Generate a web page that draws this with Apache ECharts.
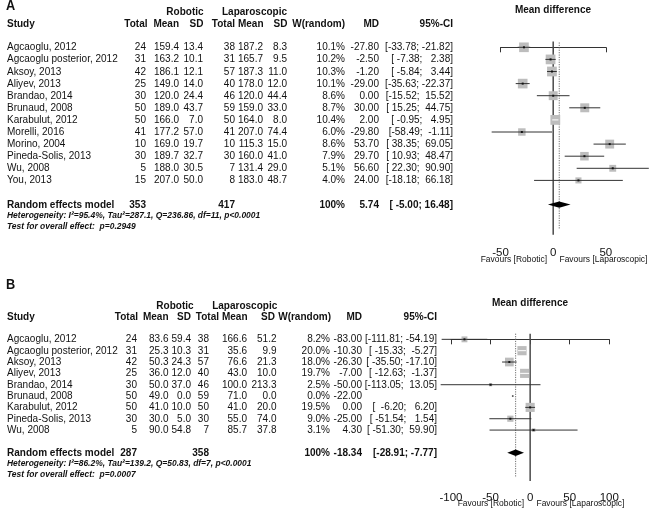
<!DOCTYPE html>
<html><head><meta charset="utf-8">
<script src="https://cdn.jsdelivr.net/npm/echarts@6/dist/echarts.min.js"></script>
<style>html,body{margin:0;padding:0;background:#fff}#c{width:650px;height:513px}</style>
</head><body><div id="c"></div>
<script>
// ---------- Panel A data ----------
const studiesA = ["Agcaoglu, 2012","Agcaoglu posterior, 2012","Aksoy, 2013","Aliyev, 2013","Brandao, 2014","Brunaud, 2008","Karabulut, 2012","Morelli, 2016","Morino, 2004","Pineda-Solis, 2013","Wu, 2008","You, 2013"];
const robTotalA = [24,31,42,25,30,50,50,41,10,30,5,15];
const robMeanA = [159.4,163.2,186.1,149.0,120.0,189.0,166.0,177.2,169.0,189.7,188.0,207.0];
const robSDA = [13.4,10.1,12.1,14.0,24.4,43.7,7.0,57.0,19.7,32.7,30.5,50.0];
const lapTotalA = [38,31,57,40,46,59,50,41,10,30,7,8];
const lapMeanA = [187.2,165.7,187.3,178.0,120.0,159.0,164.0,207.0,115.3,160.0,131.4,183.0];
const lapSDA = [8.3,9.5,11.0,12.0,44.4,33.0,8.0,74.4,15.0,41.0,29.0,48.7];
const weightA = [10.1,10.2,10.3,10.1,8.6,8.7,10.4,6.0,8.6,7.9,5.1,4.0];
const mdA = [-27.80,-2.50,-1.20,-29.00,0.00,30.00,2.00,-29.80,53.70,29.70,56.60,24.00];
const lowerA = [-33.78,-7.38,-5.84,-35.63,-15.52,15.25,-0.95,-58.49,38.35,10.93,22.30,-18.18];
const upperA = [-21.82,2.38,3.44,-22.37,15.52,44.75,4.95,-1.11,69.05,48.47,90.90,66.18];
const summaryA = {robTotal:353, lapTotal:417, weight:"100%", md:5.74, lower:-5.00, upper:16.48};
const hetA = "Heterogeneity: I\u00B2=95.4%, Tau\u00B2=287.1, Q=236.86, df=11, p<0.0001";
const testA = "Test for overall effect:  p=0.2949";
const ticksA = [-50, 0, 50];

// ---------- Panel B data ----------
const studiesB = ["Agcaoglu, 2012","Agcaoglu posterior, 2012","Aksoy, 2013","Aliyev, 2013","Brandao, 2014","Brunaud, 2008","Karabulut, 2012","Pineda-Solis, 2013","Wu, 2008"];
const robTotalB = [24,31,42,25,30,50,50,30,5];
const robMeanB = [83.6,25.3,50.3,36.0,50.0,49.0,41.0,30.0,90.0];
const robSDB = [59.4,10.3,24.3,12.0,37.0,0.0,10.0,5.0,54.8];
const lapTotalB = [38,31,57,40,46,59,50,30,7];
const lapMeanB = [166.6,35.6,76.6,43.0,100.0,71.0,41.0,55.0,85.7];
const lapSDB = [51.2,9.9,21.3,10.0,213.3,0.0,20.0,74.0,37.8];
const weightB = [8.2,20.0,18.0,19.7,2.5,0.0,19.5,9.0,3.1];
const mdB = [-83.00,-10.30,-26.30,-7.00,-50.00,-22.00,0.00,-25.00,4.30];
const lowerB = [-111.81,-15.33,-35.50,-12.63,-113.05,null,-6.20,-51.54,-51.30];
const upperB = [-54.19,-5.27,-17.10,-1.37,13.05,null,6.20,1.54,59.90];
const summaryB = {robTotal:287, lapTotal:358, weight:"100%", md:-18.34, lower:-28.91, upper:-7.77};
const hetB = "Heterogeneity: I\u00B2=86.2%, Tau\u00B2=139.2, Q=50.83, df=7, p<0.0001";
const testB = "Test for overall effect:  p=0.0007";
const ticksB = [-100, -50, 0, 50, 100];

const FONT = '"Liberation Sans", Arial, Helvetica, sans-serif';
const SX = 0.91; // horizontal squeeze of the original typesetting

function ciText(lo, hi, wl, wh) {
  return '[' + lo.toFixed(2).padStart(wl) + '; ' + hi.toFixed(2).padStart(wh) + ']';
}

function makePanel(P) {
  const wMax = Math.max.apply(null, P.weight);
  const loW = Math.max.apply(null, P.lower.filter(v => v != null).map(v => v.toFixed(2).length));
  const hiW = Math.max.apply(null, P.upper.filter(v => v != null).map(v => v.toFixed(2).length));
  const C = P.cols;
  function txt(x, y, s, align, bold) {
    return {type:'text', x:x, y:y, scaleX:SX, style:{text:s, align:align, verticalAlign:'middle',
      font:(bold ? 'bold ' : '') + '11px ' + FONT, fill:'#111'}};
  }
  const series = [];
  // table rows
  series.push({
    type:'custom', xAxisIndex:P.idx, yAxisIndex:P.idx, clip:false, silent:true, z:5,
    data: P.studies.map((s, i) => [0, i]),
    renderItem: function(params, api) {
      const i = params.dataIndex;
      const y = api.coord([0, api.value(1)])[1];
      const ch = [
        txt(C.study, y, P.studies[i], 'left'),
        txt(C.rTot, y, String(P.robTotal[i]), 'right'),
        txt(C.rMean, y, P.robMean[i].toFixed(1), 'right'),
        txt(C.rSD, y, P.robSD[i].toFixed(1), 'right'),
        txt(C.lTot, y, String(P.lapTotal[i]), 'right'),
        txt(C.lMean, y, P.lapMean[i].toFixed(1), 'right'),
        txt(C.lSD, y, P.lapSD[i].toFixed(1), 'right'),
        txt(C.w, y, P.weight[i].toFixed(1) + '%', 'right'),
        txt(C.md, y, P.md[i].toFixed(2), 'right')
      ];
      if (P.lower[i] != null) ch.push(txt(C.ci, y, ciText(P.lower[i], P.upper[i], loW, hiW), 'right'));
      return {type:'group', children:ch};
    }
  });
  // summary row text
  series.push({
    type:'custom', xAxisIndex:P.idx, yAxisIndex:P.idx, clip:false, silent:true, z:5,
    data: [[P.summary.md, P.sumRow]],
    renderItem: function(params, api) {
      const y = api.coord([0, api.value(1)])[1];
      const S = P.summary;
      return {type:'group', children:[
        txt(C.study, y, 'Random effects model', 'left', true),
        txt(C.rTot, y, String(S.robTotal), 'right', true),
        txt(C.lTot, y, String(S.lapTotal), 'right', true),
        txt(C.w, y, S.weight, 'right', true),
        txt(C.md, y, S.md.toFixed(2), 'right', true),
        txt(C.ci, y, '[' + S.lower.toFixed(2).padStart(6) + '; ' + S.upper.toFixed(2).padStart(5) + ']', 'right', true)
      ]};
    }
  });
  // reference lines: zero (solid) and pooled (dotted)
  series.push({
    type:'custom', xAxisIndex:P.idx, yAxisIndex:P.idx, clip:false, silent:true, z:2,
    data: [[0, 0], [P.summary.md, 1]],
    renderItem: function(params, api) {
      const x = api.value(0);
      const dotted = params.dataIndex === 1;
      const a = api.coord([x, dotted ? P.dotTop : P.zeroTop]);
      const b = api.coord([x, dotted ? P.dotBottom : P.zeroBottom]);
      return {type:'line', shape:{x1:a[0], y1:a[1], x2:b[0], y2:b[1]},
        style: dotted ? {stroke:'#6f6f6f', lineWidth:1, lineDash:[1.2, 1.2]} : {stroke:'#4a4a4a', lineWidth:1.5}};
    }
  });
  // study squares and CI lines
  series.push({
    type:'custom', xAxisIndex:P.idx, yAxisIndex:P.idx, clip:false, silent:true, z:4,
    data: P.md.map((m, i) => [m, i]),
    renderItem: function(params, api) {
      const i = params.dataIndex;
      const c = api.coord([api.value(0), api.value(1)]);
      const ch = [];
      const w = P.weight[i];
      const size = P.maxBox * Math.sqrt(w / wMax);
      if (w > 0) {
        ch.push({type:'rect', shape:{x:c[0]-size/2, y:c[1]-size/2, width:size, height:size}, style:{fill:'#bdbdbd'}});
      }
      let inside = false;
      if (P.lower[i] != null) {
        const a = api.coord([P.lower[i], i]);
        const b = api.coord([P.upper[i], i]);
        inside = (b[0] - a[0]) < size;
        ch.push({type:'line', shape:{x1:a[0], y1:c[1], x2:b[0], y2:c[1]},
          style:{stroke: inside ? '#ffffff' : '#333333', lineWidth:1}});
      }
      if (w === 0) {
        ch.push({type:'rect', shape:{x:c[0]-0.8, y:c[1]-0.8, width:1.6, height:1.6}, style:{fill:'#444'}});
      } else if (!inside) {
        ch.push({type:'rect', shape:{x:c[0]-1, y:c[1]-1, width:2, height:2}, style:{fill:'#111'}});
      }
      return {type:'group', children:ch};
    }
  });
  // pooled diamond
  series.push({
    type:'custom', xAxisIndex:P.idx, yAxisIndex:P.idx, clip:false, silent:true, z:4,
    data: [[P.summary.md, P.sumRow]],
    renderItem: function(params, api) {
      const c = api.coord([api.value(0), api.value(1)]);
      const l = api.coord([P.summary.lower, api.value(1)]);
      const r = api.coord([P.summary.upper, api.value(1)]);
      const h = 3.2;
      return {type:'polygon', shape:{points:[[l[0], c[1]], [c[0], c[1]-h], [r[0], c[1]], [c[0], c[1]+h]]},
        style:{fill:'#000'}};
    }
  });
  return series;
}

const panelA = {
  idx:0, studies:studiesA, robTotal:robTotalA, robMean:robMeanA, robSD:robSDA,
  lapTotal:lapTotalA, lapMean:lapMeanA, lapSD:lapSDA, weight:weightA, md:mdA,
  lower:lowerA, upper:upperA, summary:summaryA, sumRow:13, maxBox:9.8,
  zeroTop:-0.47, zeroBottom:15.5, dotTop:-0.4, dotBottom:15.0,
  cols:{study:7, rTot:146, rMean:179, rSD:203, lTot:235, lMean:263, lSD:287, w:345, md:379, ci:453},
  head:{rTot:147.5, rMean:179, rSD:203.5, lTot:235, lMean:263.5, lSD:287.5, w:345, md:379, ci:453}
};
const panelB = {
  idx:1, studies:studiesB, robTotal:robTotalB, robMean:robMeanB, robSD:robSDB,
  lapTotal:lapTotalB, lapMean:lapMeanB, lapSD:lapSDB, weight:weightB, md:mdB,
  lower:lowerB, upper:upperB, summary:summaryB, sumRow:10, maxBox:9.2,
  zeroTop:-0.5, zeroBottom:12.5, dotTop:-0.5, dotBottom:12.2,
  cols:{study:7, rTot:137, rMean:168.5, rSD:191, lTot:209, lMean:247, lSD:276.5, w:330, md:362, ci:437},
  head:{rTot:138, rMean:168.5, rSD:191, lTot:219, lMean:247.5, lSD:275, w:331, md:362, ci:437}
};

function xAxisFor(idx, ticks, margin) {
  return {
    type:'value', gridIndex:idx, min:ticks[0], max:ticks[ticks.length-1], interval:ticks[1]-ticks[0],
    axisLine:{show:true, lineStyle:{color:'#333', width:1}},
    axisTick:{show:true, length:5, lineStyle:{color:'#333', width:1}},
    splitLine:{show:false},
    axisLabel:{color:'#111', fontSize:11.5, fontFamily:FONT, margin:margin}
  };
}
function yAxisFor(idx, min, max) {
  return {type:'value', gridIndex:idx, inverse:true, min:min, max:max, show:false, splitLine:{show:false}};
}

function T(x, y, s, opts) {
  return {type:'text', x:x, y:y, scaleX:SX, silent:true,
    style:Object.assign({text:s, fill:'#111', font:'11px ' + FONT, align:'left', verticalAlign:'middle'}, opts || {})};
}
const bold11 = 'bold 11px ' + FONT;
const noteFont = 'italic bold 9.3px ' + FONT;
const favFont = '9.3px ' + FONT;

function headers(P, yTitle, yGroup, yHead, panelLabel, mdTitleX, mdTitleY, grpR, grpL) {
  const H = P.head;
  return [
    T(6, yTitle, panelLabel, {font:'bold 14px ' + FONT}),
    T(grpR, yGroup, 'Robotic', {font:bold11, align:'center'}),
    T(grpL, yGroup, 'Laparoscopic', {font:bold11, align:'center'}),
    T(P.cols.study, yHead, 'Study', {font:bold11}),
    T(H.rTot, yHead, 'Total', {font:bold11, align:'right'}),
    T(H.rMean, yHead, 'Mean', {font:bold11, align:'right'}),
    T(H.rSD, yHead, 'SD', {font:bold11, align:'right'}),
    T(H.lTot, yHead, 'Total', {font:bold11, align:'right'}),
    T(H.lMean, yHead, 'Mean', {font:bold11, align:'right'}),
    T(H.lSD, yHead, 'SD', {font:bold11, align:'right'}),
    T(H.w, yHead, 'W(random)', {font:bold11, align:'right'}),
    T(H.md, yHead, 'MD', {font:bold11, align:'right'}),
    T(H.ci, yHead, '95%-CI', {font:bold11, align:'right'}),
    T(mdTitleX, mdTitleY, 'Mean difference', {font:bold11, align:'center'})
  ];
}

const graphics = [].concat(
  headers(panelA, 6, 12, 24, 'A', 553, 10, 185, 254.5),
  [
    T(7, 215.5, hetA, {font:noteFont}),
    T(7, 226.5, testA, {font:noteFont}),
    T(547, 259, 'Favours [Robotic]', {font:favFont, align:'right'}),
    T(559.5, 259, 'Favours [Laparoscopic]', {font:favFont, align:'left'})
  ],
  headers(panelB, 285, 305.5, 317, 'B', 530, 303, 175, 244.7),
  [
    T(7, 463.5, hetB, {font:noteFont}),
    T(7, 474.5, testB, {font:noteFont}),
    T(524, 503, 'Favours [Robotic]', {font:favFont, align:'right'}),
    T(536.5, 503, 'Favours [Laparoscopic]', {font:favFont, align:'left'})
  ]
);

const chart = echarts.init(document.getElementById('c'), null, {renderer:'canvas'});
chart.setOption({
  backgroundColor:'#ffffff',
  animation:false,
  grid:[
    {left:500.6, top:35.2, width:105.2, height:199.65, outerBoundsMode:'none', containLabel:false},
    {left:451, top:328, width:158.3, height:153.1, outerBoundsMode:'none', containLabel:false}
  ],
  xAxis:[xAxisFor(0, ticksA, 12), xAxisFor(1, ticksB, 11)],
  yAxis:[yAxisFor(0, -1, 15.5), yAxisFor(1, -1, 12.5)],
  series:[].concat(makePanel(panelA), makePanel(panelB)),
  graphic:graphics
});
</script>
</body></html>
